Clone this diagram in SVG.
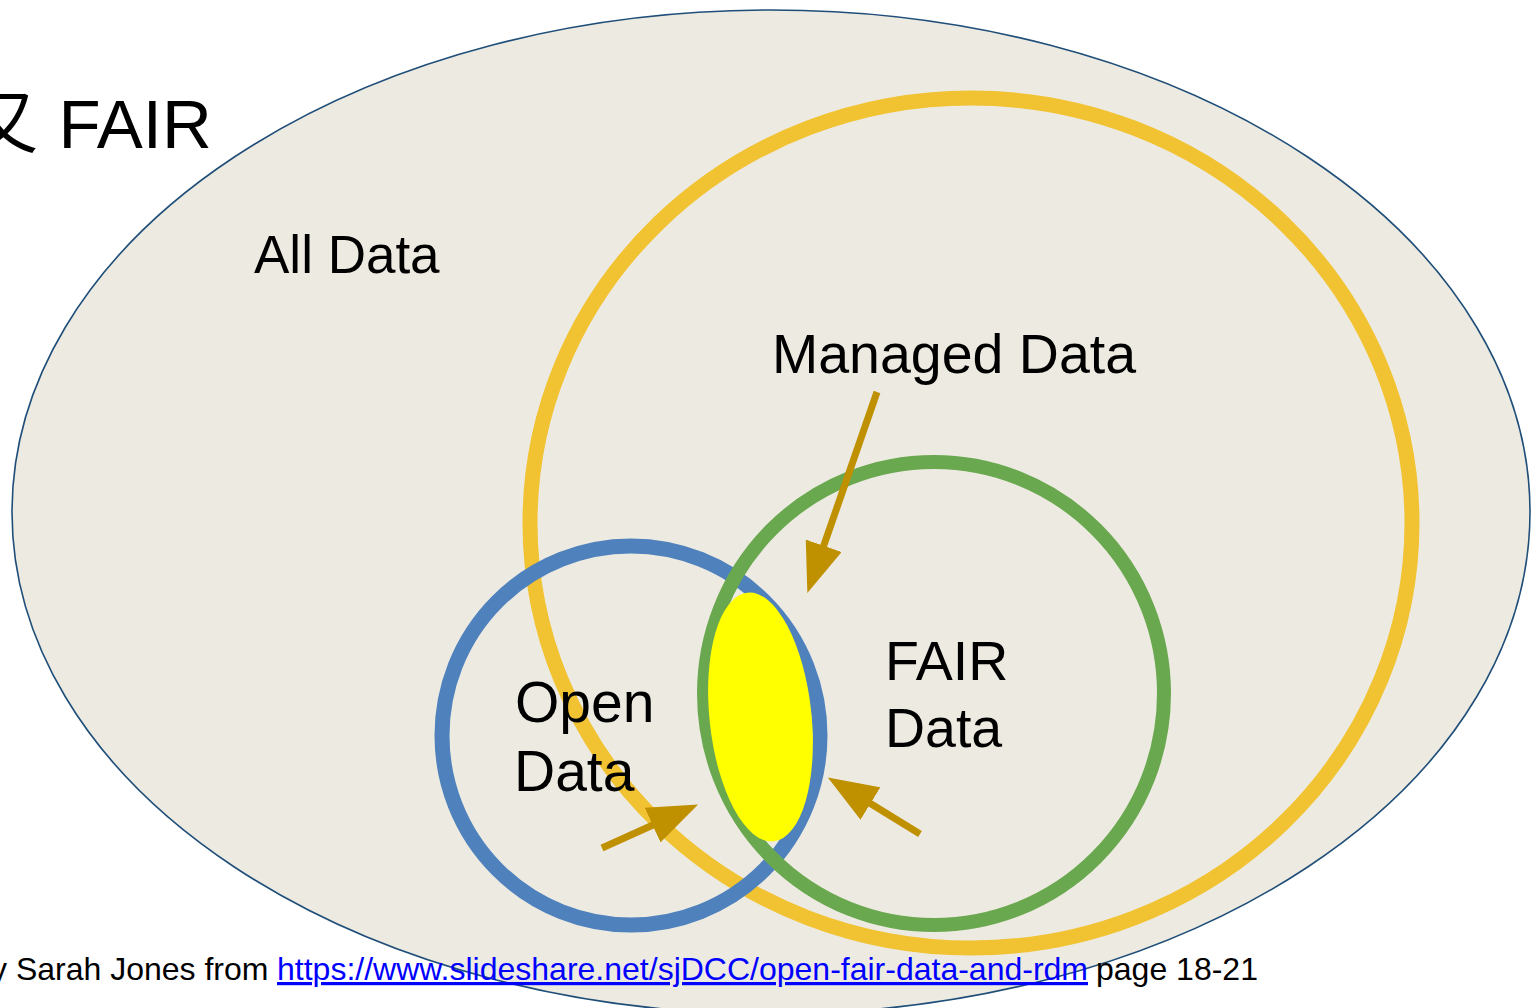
<svg xmlns="http://www.w3.org/2000/svg" width="1532" height="1008" viewBox="0 0 1532 1008">
  <defs>
    <style>
      .lbl { font-family: "Liberation Sans", Arial, sans-serif; fill: #000000; }
      .ring { fill: none; }
      .arrow { stroke: #BF9000; stroke-width: 7; fill: none; marker-end: url(#head); }
      .foot { font-family: "Liberation Sans", Arial, sans-serif; font-size: 32px; fill: #000000; }
    </style>
    <marker id="head" markerUnits="userSpaceOnUse" viewBox="0 0 50 38" markerWidth="50" markerHeight="38" refX="1" refY="19" orient="auto">
      <path d="M0,0 L50,19 L0,38 z" fill="#BF9000"/>
    </marker>
  </defs>
  <rect x="0" y="0" width="1532" height="1008" fill="#FFFFFF"/>

  <g id="all-data">
    <ellipse cx="771" cy="512" rx="759" ry="502" fill="#EDEBE1" stroke="#1F4E79" stroke-width="1.6"/>
    <text class="lbl" x="254" y="273" font-size="53">All Data</text>
  </g>

  <g id="managed-data">
    <ellipse class="ring" cx="971" cy="523" rx="441" ry="425" stroke="#F1C232" stroke-width="15"/>
    <text class="lbl" x="772" y="373" font-size="55.5">Managed Data</text>
  </g>

  <g id="open-data">
    <ellipse class="ring" cx="631" cy="735.5" rx="189" ry="189.5" stroke="#4F81BD" stroke-width="15"/>
  </g>

  <g id="fair-data">
    <ellipse class="ring" cx="934" cy="693.5" rx="230" ry="231.5" stroke="#6AA84F" stroke-width="14"/>
    <text class="lbl" x="885" y="680" font-size="55.5">FAIR</text>
    <text class="lbl" x="885" y="747" font-size="55.5">Data</text>
  </g>

  <g id="open-data-label">
    <text class="lbl" x="515" y="722" font-size="57">Open</text>
    <text class="lbl" x="514" y="791" font-size="57">Data</text>
  </g>

  <g id="overlap">
    <ellipse cx="760.5" cy="717" rx="51" ry="125" fill="#FFFF00" transform="rotate(-6 760.5 717)"/>
  </g>

  <g id="connectors">
    <line class="arrow" x1="877" y1="392" x2="823.4" y2="546.7"/>
    <line class="arrow" x1="602" y1="848" x2="653.5" y2="824.7"/>
    <line class="arrow" x1="920" y1="834" x2="869.6" y2="803.1"/>
  </g>

  <g id="title">
    <text y="148" font-family="'Liberation Sans', 'Noto Sans CJK SC', sans-serif" font-size="69" fill="#000000"><tspan x="-31">又</tspan><tspan x="58.5">FAIR</tspan></text>
  </g>

  <g id="footer">
    <text class="foot" y="980"><tspan x="-9">y Sarah Jones from</tspan><tspan x="277" fill="#0000FF" text-decoration="underline">https://www.slideshare.net/sjDCC/open-fair-data-and-rdm</tspan><tspan x="1096">page 18-21</tspan></text>
  </g>
</svg>
